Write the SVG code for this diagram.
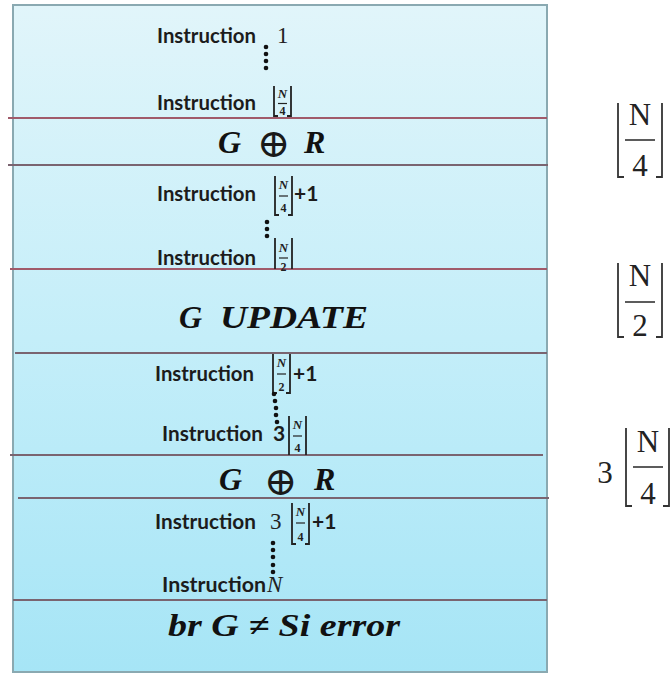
<svg xmlns="http://www.w3.org/2000/svg" width="670" height="675" viewBox="0 0 670 675">
<defs>
<linearGradient id="bg" x1="0" y1="0" x2="0" y2="1">
<stop offset="0" stop-color="#e1f5fa"/>
<stop offset="0.5" stop-color="#c4eef9"/>
<stop offset="1" stop-color="#a6e5f6"/>
</linearGradient>
<style>
.ins{font-family:Lato,"Open Sans","Liberation Sans",sans-serif;font-weight:700;font-size:21px;fill:#1c1c1c}
.num{font-family:"Liberation Serif","DejaVu Serif",serif;font-size:23px;fill:#222}
.math{font-family:"Liberation Serif","DejaVu Serif",serif;font-weight:700;font-style:italic;font-size:32px;fill:#111}
.op{font-family:"DejaVu Sans","DejaVu Serif",sans-serif;font-weight:200;font-size:40px;fill:#1a1a1a}
.fn{font-family:"Liberation Serif",serif;font-style:italic;font-weight:700;font-size:13px;fill:#222;text-anchor:middle}
.fd{font-family:"Liberation Serif",serif;font-weight:700;font-size:12px;fill:#222;text-anchor:middle}
.br{fill:none;stroke:#222;stroke-width:1.8}
.bar{stroke:#222;stroke-width:1.2}
.dot{fill:#111}
.div1{stroke:#a05a6a;stroke-width:2}
.div2{stroke:#7a6470;stroke-width:2}
.rn{font-family:"Liberation Serif","DejaVu Serif",serif;font-size:31px;fill:#222;text-anchor:middle}
.rbr{fill:none;stroke:#333;stroke-width:1.8}
.rbar{stroke:#333;stroke-width:1.6}
</style>
</defs>
<rect x="13" y="5" width="534" height="667" fill="url(#bg)" stroke="#8aa9b1" stroke-width="2"/>

<g id="dividers">
<line class="div1" x1="8" y1="118" x2="547" y2="118"/>
<line class="div2" x1="8" y1="165" x2="548" y2="165"/>
<line class="div1" x1="10" y1="269" x2="547" y2="269"/>
<line class="div2" x1="15" y1="353" x2="547" y2="353"/>
<line class="div2" x1="10" y1="455" x2="543" y2="455"/>
<line class="div2" x1="18" y1="498" x2="549" y2="498"/>
<line class="div2" x1="13" y1="600" x2="547" y2="600"/>
</g>

<g id="connectors"></g>

<g id="instr-1">
<text class="ins" x="157" y="43" textLength="99" lengthAdjust="spacingAndGlyphs">Instruction</text>
<text class="num" x="277" y="43">1</text>
<circle class="dot" cx="266" cy="47" r="2.3"/><circle class="dot" cx="266" cy="54" r="2.3"/>
<circle class="dot" cx="266" cy="61" r="2.3"/><circle class="dot" cx="266" cy="68" r="2.3"/>
</g>

<g id="instr-n4">
<text class="ins" x="157" y="110" textLength="99" lengthAdjust="spacingAndGlyphs">Instruction</text>
<path class="br" d="M274 86V116H278M291 86V116H287"/>
<text class="fn" x="282.5" y="98">N</text>
<line class="bar" x1="278" y1="103.5" x2="287" y2="103.5"/>
<text class="fd" x="282.5" y="115">4</text>
</g>

<g id="xor-1">
<text class="math" x="218" y="153">G</text>
<text class="op" x="257" y="157">⊕</text>
<text class="math" x="304" y="153">R</text>
</g>

<g id="instr-n4p1">
<text class="ins" x="157" y="201" textLength="99" lengthAdjust="spacingAndGlyphs">Instruction</text>
<path class="br" d="M275 176V215H279M292 176V215H288"/>
<text class="fn" x="283.5" y="189">N</text>
<line class="bar" x1="279" y1="196" x2="288" y2="196"/>
<text class="fd" x="283.5" y="212">4</text>
<text class="ins" x="294" y="201">+1</text>
<circle class="dot" cx="267" cy="222" r="2.3"/><circle class="dot" cx="267" cy="229" r="2.3"/><circle class="dot" cx="267" cy="236" r="2.3"/>
</g>

<g id="instr-n2">
<text class="ins" x="157" y="265" textLength="99" lengthAdjust="spacingAndGlyphs">Instruction</text>
<path class="br" d="M275 238V269M292 238V269"/>
<text class="fn" x="283.5" y="252">N</text>
<line class="bar" x1="279" y1="258" x2="288" y2="258"/>
<text class="fd" x="283.5" y="271">2</text>
</g>

<g id="g-update">
<text class="math" x="179" y="328" font-size="33">G</text>
<text class="math" x="220" y="328" font-size="33" textLength="148" lengthAdjust="spacingAndGlyphs">UPDATE</text>
</g>

<g id="instr-n2p1">
<text class="ins" x="155" y="381" textLength="99" lengthAdjust="spacingAndGlyphs">Instruction</text>
<path class="br" d="M273 354V393H277M290 354V393H286"/>
<text class="fn" x="281.5" y="367">N</text>
<line class="bar" x1="277" y1="374" x2="286" y2="374"/>
<text class="fd" x="281.5" y="391">2</text>
<text class="ins" x="293" y="381">+1</text>
<circle class="dot" cx="274" cy="394" r="2.3"/><circle class="dot" cx="275" cy="401" r="2.3"/>
<circle class="dot" cx="276" cy="408" r="2.3"/><circle class="dot" cx="276" cy="415" r="2.3"/>
<circle class="dot" cx="277" cy="422" r="2.3"/>
</g>

<g id="instr-3n4">
<text class="ins" x="162" y="441" textLength="101" lengthAdjust="spacingAndGlyphs">Instruction</text>
<text class="ins" x="273" y="441">3</text>
<path class="br" d="M289 416V455M306 416V455"/>
<text class="fn" x="297.5" y="429">N</text>
<line class="bar" x1="293" y1="436" x2="302" y2="436"/>
<text class="fd" x="297.5" y="452">4</text>
</g>

<g id="xor-2">
<text class="math" x="219" y="490">G</text>
<text class="op" x="264" y="495">⊕</text>
<text class="math" x="314" y="490">R</text>
</g>

<g id="instr-3n4p1">
<text class="ins" x="155" y="529" textLength="101" lengthAdjust="spacingAndGlyphs">Instruction</text>
<text class="num" x="270" y="529">3</text>
<path class="br" d="M292 503V544H296M309 503V544H305"/>
<text class="fn" x="300.5" y="516">N</text>
<line class="bar" x1="296" y1="523" x2="305" y2="523"/>
<text class="fd" x="300.5" y="541">4</text>
<text class="ins" x="312" y="529">+1</text>
<circle class="dot" cx="273" cy="543" r="2.3"/><circle class="dot" cx="273" cy="550" r="2.3"/>
<circle class="dot" cx="273" cy="557" r="2.3"/><circle class="dot" cx="273" cy="565" r="2.3"/>
<circle class="dot" cx="273" cy="572" r="2.3"/>
</g>

<g id="instr-N">
<text class="ins" x="162" y="592" textLength="104" lengthAdjust="spacingAndGlyphs">Instruction</text>
<text class="num" x="267" y="592" font-style="italic" fill="#555">N</text>
</g>

<g id="branch">
<text class="math" x="168" y="636" textLength="232" lengthAdjust="spacingAndGlyphs">br G ≠ Si error</text>
</g>

<g id="label-n4">
<path class="rbr" d="M618 103V177H624M662 103V177H656"/>
<text class="rn" x="640" y="125">N</text>
<line class="rbar" x1="625" y1="140" x2="655" y2="140"/>
<text class="rn" x="640" y="176">4</text>
</g>

<g id="label-n2">
<path class="rbr" d="M618 263V337H624M662 263V337H656"/>
<text class="rn" x="640" y="286">N</text>
<line class="rbar" x1="625" y1="302" x2="655" y2="302"/>
<text class="rn" x="640" y="336">2</text>
</g>

<g id="label-3n4">
<text class="rn" x="605" y="483">3</text>
<path class="rbr" d="M626 428V506H632M669 428V506H663"/>
<text class="rn" x="648" y="452">N</text>
<line class="rbar" x1="633" y1="467" x2="663" y2="467"/>
<text class="rn" x="648" y="504">4</text>
</g>
</svg>
